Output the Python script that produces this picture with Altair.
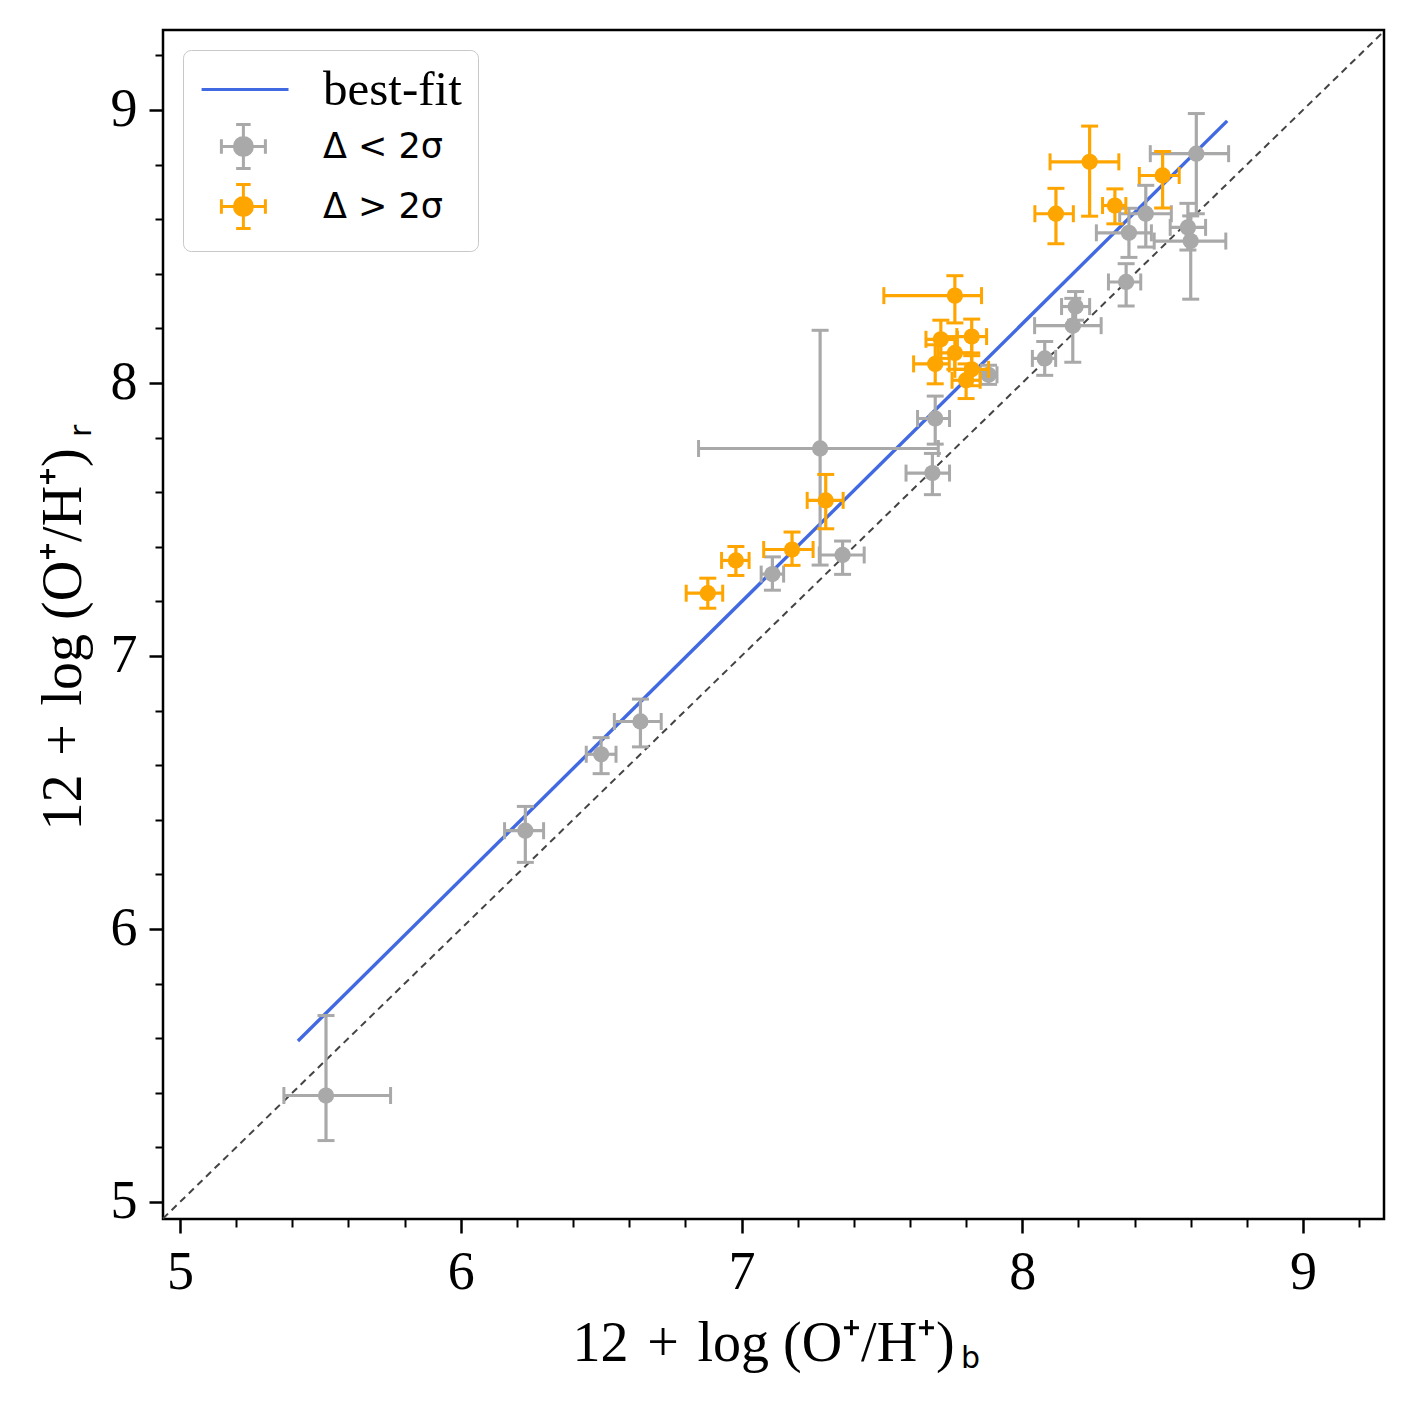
import altair as alt
import pandas as pd

# ---------------- data ----------------
# group "Δ < 2σ" (gray)
g_x   = [5.52, 6.23, 6.50, 6.64, 7.11, 7.36, 7.28, 7.69, 7.68, 7.88, 8.08, 8.19, 8.18, 8.37, 8.38, 8.44, 8.59, 8.60, 8.62]
g_y   = [5.39, 6.36, 6.64, 6.76, 7.30, 7.37, 7.76, 7.87, 7.67, 8.03, 8.09, 8.28, 8.21, 8.37, 8.55, 8.62, 8.57, 8.52, 8.84]
g_xlo = [0.150, 0.074, 0.053, 0.093, 0.040, 0.083, 0.433, 0.063, 0.094, 0.030, 0.044, 0.050, 0.136, 0.063, 0.116, 0.093, 0.063, 0.130, 0.164]
g_xhi = [0.230, 0.065, 0.053, 0.074, 0.040, 0.077, 0.421, 0.051, 0.061, 0.030, 0.039, 0.050, 0.101, 0.052, 0.080, 0.091, 0.063, 0.125, 0.115]
g_ylo = [0.165, 0.116, 0.071, 0.093, 0.059, 0.071, 0.427, 0.094, 0.079, 0.035, 0.062, 0.050, 0.134, 0.088, 0.090, 0.122, 0.083, 0.213, 0.220]
g_yhi = [0.293, 0.089, 0.061, 0.082, 0.063, 0.051, 0.433, 0.082, 0.072, 0.035, 0.062, 0.055, 0.100, 0.067, 0.090, 0.104, 0.088, 0.092, 0.147]

# group "Δ > 2σ" (orange)
o_x   = [6.88, 6.98, 7.18, 7.30, 7.76, 7.71, 7.82, 7.76, 7.69, 7.82, 7.80, 8.12, 8.24, 8.33, 8.50]
o_y   = [7.23, 7.35, 7.39, 7.57, 8.32, 8.16, 8.17, 8.11, 8.07, 8.05, 8.01, 8.62, 8.81, 8.65, 8.76]
o_xlo = [0.077, 0.051, 0.101, 0.066, 0.253, 0.053, 0.053, 0.060, 0.077, 0.060, 0.050, 0.075, 0.141, 0.044, 0.083]
o_xhi = [0.053, 0.047, 0.075, 0.062, 0.095, 0.059, 0.053, 0.060, 0.050, 0.060, 0.050, 0.062, 0.104, 0.039, 0.059]
o_ylo = [0.055, 0.055, 0.058, 0.104, 0.100, 0.070, 0.070, 0.060, 0.073, 0.060, 0.067, 0.110, 0.199, 0.067, 0.119]
o_yhi = [0.055, 0.051, 0.064, 0.095, 0.073, 0.070, 0.064, 0.060, 0.070, 0.060, 0.060, 0.093, 0.131, 0.061, 0.088]

# best-fit line end points and the 1:1 line
fit_x = [5.42, 8.73]
fit_y = [5.59, 8.96]
one_x = [4.9394, 9.2885]
one_y = [4.9394, 9.2885]

groups = ["best-fit", "Δ < 2σ", "Δ > 2σ"]
colors = ["#4169e1", "#a9a9a9", "#ffa500"]

major_ticks = [5, 6, 7, 8, 9]
minor_ticks = [5.2, 5.4, 5.6, 5.8, 6.2, 6.4, 6.6, 6.8, 7.2, 7.4, 7.6, 7.8,
               8.2, 8.4, 8.6, 8.8, 9.2]

X_DOM = [4.9394, 9.2885]
Y_DOM = [4.9377, 9.293]

TITLE = "12\u2004+\u2004log (O⁺/H⁺)"

# ---------------- helpers ----------------
SERIF = "Liberation Serif"


def xs():
    return alt.Scale(domain=X_DOM, zero=False, nice=False)


def ys():
    return alt.Scale(domain=Y_DOM, zero=False, nice=False)


main_common = dict(values=major_ticks, format="d", labelFont=SERIF, labelFontSize=54,
                   labelColor="black", labelFlush=False, labelOverlap=False,
                   tickSize=14, tickWidth=2.5, tickColor="black", domain=False, grid=False,
                   titleFont=SERIF, titleFontSize=56, titleFontWeight="normal",
                   titleColor="black", titleAlign="left", titleBaseline="alphabetic")

x_main = alt.Axis(orient="bottom", labelPadding=12, title=TITLE,
                  titleX=409, titleY=141, **main_common)
y_main = alt.Axis(orient="left", labelPadding=12, title=TITLE,
                  titleX=-83, titleY=800, titleAngle=270, **main_common)

minor_common = dict(values=minor_ticks, labels=False, tickSize=8, tickWidth=2,
                    tickColor="black", domain=False, grid=False, title=None)
x_minor = alt.Axis(orient="bottom", **minor_common)
y_minor = alt.Axis(orient="left", **minor_common)


def make_df(x, y, xlo, xhi, ylo, yhi):
    return pd.DataFrame({"x": x, "y": y, "xlo": xlo, "xhi": xhi, "ylo": ylo, "yhi": yhi})


def group_layers(df, color):
    base = alt.Chart(df).transform_calculate(
        x_lo="datum.x - datum.xlo", x_hi="datum.x + datum.xhi",
        y_lo="datum.y - datum.ylo", y_hi="datum.y + datum.yhi")
    X = lambda f: alt.X(f, type="quantitative", scale=xs(), axis=None)
    Y = lambda f: alt.Y(f, type="quantitative", scale=ys(), axis=None)
    xbar = base.mark_rule(color=color, strokeWidth=3.2, opacity=1).encode(
        x=X("x_lo"), x2="x_hi:Q", y=Y("y"))
    ybar = base.mark_rule(color=color, strokeWidth=3.2, opacity=1).encode(
        x=X("x"), y=Y("y_lo"), y2="y_hi:Q")
    caps = []
    for f in ["x_lo", "x_hi"]:
        caps.append(base.mark_tick(orient="vertical", size=17, thickness=3,
                                   color=color, opacity=1).encode(x=X(f), y=Y("y")))
    for f in ["y_lo", "y_hi"]:
        caps.append(base.mark_tick(orient="horizontal", size=17, thickness=3,
                                   color=color, opacity=1).encode(x=X("x"), y=Y(f)))
    pts = base.mark_circle(size=265, color=color, opacity=1).encode(x=X("x"), y=Y("y"))
    return [xbar, ybar] + caps + [pts]


gray_df = make_df(g_x, g_y, g_xlo, g_xhi, g_ylo, g_yhi)
orange_df = make_df(o_x, o_y, o_xlo, o_xhi, o_ylo, o_yhi)

one_df = pd.DataFrame({"x": one_x, "y": one_y})
fit_df = pd.DataFrame({"x": fit_x, "y": fit_y})

diag = alt.Chart(one_df).mark_line(color="#444444", strokeDash=[7, 5], strokeWidth=2).encode(
    x=alt.X("x:Q", scale=xs(), axis=x_main),
    y=alt.Y("y:Q", scale=ys(), axis=y_main))

fit = alt.Chart(fit_df).mark_line(color=colors[0], strokeWidth=3.4).encode(
    x=alt.X("x:Q", scale=xs(), axis=x_minor),
    y=alt.Y("y:Q", scale=ys(), axis=y_minor))

# ---------------- legend (scale-driven, no visible data marks) ----------------
line_path = "M-0.95,0H3.0"
eb_path = ("M-0.05,0H1.95M0.95,-1V1M-0.05,-0.33V0.33M1.95,-0.33V0.33"
           "M0.62,-1H1.28M0.62,1H1.28"
           "M1.36,0A0.41,0.41,0,1,1,0.54,0A0.41,0.41,0,1,1,1.36,0Z")

leg = alt.Legend(title=None, orient="top-left", offset=20, padding=16,
                 labelOffset=77, rowPadding=3, symbolSize=1936, symbolStrokeWidth=3,
                 strokeColor="#c8c8c8", fillColor="white", cornerRadius=8,
                 labelColor="black", labelLimit=400,
                 labelFont={"expr": "datum.label == 'best-fit' ? 'Liberation Serif' : 'DejaVu Sans'"},
                 labelFontSize={"expr": "datum.label == 'best-fit' ? 49 : 35"})

legend_df = pd.DataFrame({"group": groups, "x": [None] * 3, "y": [None] * 3})
legend_layer = alt.Chart(legend_df).mark_point(filled=True, opacity=1).encode(
    x=alt.X("x:Q", scale=xs(), axis=None),
    y=alt.Y("y:Q", scale=ys(), axis=None),
    fill=alt.Fill("group:N", scale=alt.Scale(domain=groups, range=colors), legend=leg),
    stroke=alt.Stroke("group:N", scale=alt.Scale(domain=groups, range=colors), legend=leg),
    shape=alt.Shape("group:N", scale=alt.Scale(domain=groups, range=[line_path, eb_path, eb_path]),
                    legend=leg))

# ---------------- subscripts of the axis titles ----------------
sub_b = alt.Chart(pd.DataFrame({"t": ["b"]})).mark_text(
    font="DejaVu Sans", fontSize=30, align="left", baseline="alphabetic", color="black").encode(
    x=alt.value(798), y=alt.value(1338), text="t:N")
sub_r = alt.Chart(pd.DataFrame({"t": ["r"]})).mark_text(
    font="DejaVu Sans", fontSize=30, align="left", baseline="alphabetic", angle=270,
    color="black").encode(
    x=alt.value(-72), y=alt.value(407), text="t:N")

layers = [diag, fit] + group_layers(gray_df, colors[1]) + group_layers(orange_df, colors[2]) + \
    [legend_layer, sub_b, sub_r]

chart = alt.layer(*layers).resolve_axis(x="independent", y="independent").properties(
    width=1221, height=1189,
    autosize=alt.AutoSizeParams(type="none"),
    padding={"left": 155, "top": 22, "right": 20, "bottom": 170},
    background="white",
).configure_view(stroke="black", strokeWidth=2.5)

chart.save("out.html", embed_options={"renderer": "svg", "actions": False})
